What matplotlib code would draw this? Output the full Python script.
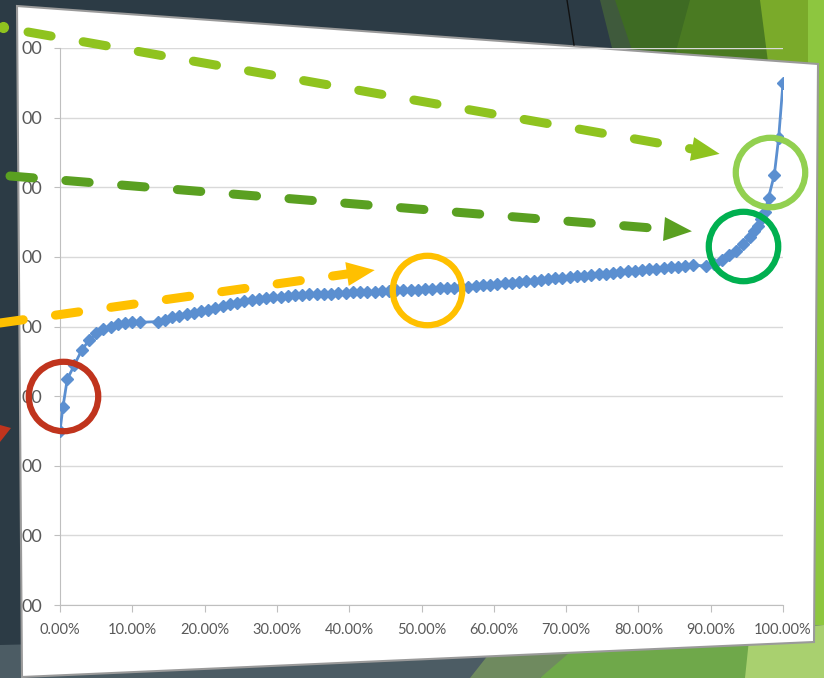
import matplotlib
matplotlib.use("Agg")
from matplotlib import pyplot as plt
from matplotlib.patches import Polygon
from matplotlib.lines import Line2D

# percentile position (%) and value (in grid units, 0..8)
pct = [0, 0.4, 1.0, 2.0, 3.0, 4.0, 5.0, 6.0, 7.0, 8.0, 9.0, 10.0, 11.0,
       13.5, 14.5, 15.5, 16.5, 17.5, 18.5, 19.5, 20.5, 21.5, 22.5, 23.5, 24.5,
       25.5, 26.5, 27.5, 28.5, 29.5, 30.5, 31.5, 32.5, 33.5, 34.5, 35.5, 36.5,
       37.5, 38.5, 39.5, 40.5, 41.5, 42.5, 43.5, 44.5, 45.5, 46.5, 47.5, 48.5,
       49.5, 50.5, 51.5, 52.5, 53.5, 54.5, 55.5, 56.5, 57.5, 58.5, 59.5, 60.5,
       61.5, 62.5, 63.5, 64.5, 65.5, 66.5, 67.5, 68.5, 69.5, 70.5, 71.5, 72.5,
       73.5, 74.5, 75.5, 76.5, 77.5, 78.5, 79.5, 80.5, 81.5, 82.5, 83.5, 84.5,
       85.5, 86.5, 87.5, 89.3, 90.5, 91.5, 92.5, 93.5, 94.5, 95.5, 96.0, 96.5,
       97.0, 97.5, 98.0, 98.8, 99.4, 100.0]
vals = [2.50, 2.84, 3.24, 3.45, 3.66, 3.80, 3.90, 3.96, 4.00, 4.03, 4.05, 4.06, 4.06,
        4.07, 4.10, 4.13, 4.15, 4.18, 4.20, 4.22, 4.24, 4.27, 4.29, 4.32, 4.34,
        4.36, 4.38, 4.40, 4.41, 4.42, 4.43, 4.44, 4.45, 4.45, 4.46, 4.46, 4.47,
        4.47, 4.48, 4.48, 4.49, 4.49, 4.50, 4.50, 4.51, 4.51, 4.52, 4.52, 4.53,
        4.53, 4.54, 4.54, 4.55, 4.55, 4.56, 4.57, 4.57, 4.58, 4.59, 4.60, 4.61,
        4.62, 4.63, 4.64, 4.65, 4.66, 4.67, 4.68, 4.69, 4.70, 4.71, 4.72, 4.73,
        4.74, 4.75, 4.76, 4.77, 4.78, 4.79, 4.80, 4.81, 4.82, 4.83, 4.84, 4.85,
        4.86, 4.87, 4.88, 4.87, 4.90, 4.95, 5.02, 5.09, 5.18, 5.29, 5.37, 5.45,
        5.55, 5.65, 5.85, 6.18, 6.71, 7.50]

x_ticks = [0, 10, 20, 30, 40, 50, 60, 70, 80, 90, 100]
x_labels = ["0.00%", "10.00%", "20.00%", "30.00%", "40.00%", "50.00%",
            "60.00%", "70.00%", "80.00%", "90.00%", "100.00%"]
y_ticks = [0, 1, 2, 3, 4, 5, 6, 7, 8]
y_labels = ["00"] * 9

# highlighted spots (pct, value, colour)
circle_pct = [0.4, 50.8, 94.5, 98.2]
circle_val = [3.0, 4.53, 5.15, 6.22]
circle_col = ["#c0341d", "#ffc000", "#00b050", "#92d050"]

W, H = 824, 678
plt.rcParams['font.family'] = ['Lato', 'DejaVu Sans']
fig = plt.figure(figsize=(W / 100, H / 100), dpi=100)
fig.patch.set_facecolor("#2c3b45")

# background layer in pixel coords
bg = fig.add_axes([0, 0, 1, 1], zorder=0)
bg.set_xlim(0, W)
bg.set_ylim(H, 0)
bg.axis("off")
shapes = [
    ([(600, 0), (625, 0), (640, 50), (612, 48)], "#3f5a3c"),
    ([(615, 0), (700, 0), (680, 55), (632, 50)], "#3e6b23"),
    ([(690, 0), (765, 0), (770, 60), (675, 55)], "#4a7a22"),
    ([(760, 0), (824, 0), (824, 70), (768, 62)], "#7aaa2a"),
    ([(808, 0), (824, 0), (824, 678), (808, 678)], "#8dc63f"),
    ([(0, 645), (824, 625), (824, 678), (0, 678)], "#4c5c64"),
    ([(500, 640), (600, 635), (540, 678), (470, 678)], "#6f8a5f"),
    ([(590, 635), (760, 630), (750, 678), (540, 678)], "#6fa84a"),
    ([(750, 630), (824, 625), (824, 678), (745, 678)], "#a9d06f"),
]
for pts, col in shapes:
    bg.add_patch(Polygon(pts, closed=True, facecolor=col, edgecolor="none"))
bg.plot([567, 574], [0, 45], color="#111111", lw=1)
bg.add_patch(Polygon([(0, 425), (11, 428), (0, 442)], closed=True,
                     facecolor="#c0341d", edgecolor="none"))
# white chart panel
bg.add_patch(Polygon([(17, 6), (818, 64), (814, 642), (22, 677)], closed=True,
                     facecolor="white", edgecolor="#9a9a9a", lw=1.5))

# chart
ax = fig.add_axes([60 / W, (H - 605) / H, 723 / W, 557 / H], zorder=2)
ax.set_facecolor("none")
ax.plot(pct, vals, color="#5b8fd0", lw=2, marker="D", ms=6,
        mfc="#5b8fd0", mec="#5b8fd0", zorder=3)
ax.set_xlim(0, 100)
ax.set_ylim(0, 8)
ax.set_xticks(x_ticks)
ax.set_xticklabels(x_labels)
ax.set_yticks(y_ticks)
ax.set_yticklabels(y_labels)
ax.grid(axis="y", color="#d9d9d9", lw=1)
ax.set_axisbelow(True)
for s in ["top", "right"]:
    ax.spines[s].set_visible(False)
for s in ["left", "bottom"]:
    ax.spines[s].set_color("#bfbfbf")
ax.tick_params(axis="x", colors="#bfbfbf", labelcolor="#595959", labelsize=10.5,
               length=5, pad=8)
ax.tick_params(axis="y", colors="#bfbfbf", labelcolor="#595959", labelsize=13,
               length=4, pad=9)

for cx, cy, cc in zip(circle_pct, circle_val, circle_col):
    ax.plot([cx], [cy], marker="o", ms=50, mfc="none", mec=cc, mew=4.5,
            clip_on=False, zorder=5)

# dashed arrows overlay
ov = fig.add_axes([0, 0, 1, 1], zorder=4)
ov.set_facecolor("none")
ov.set_xlim(0, W)
ov.set_ylim(H, 0)
ov.axis("off")
arrows = [
    ((28, 32), (692, 149), "#8fc31f"),
    ((10, 176), (664, 229), "#5aa021"),
    ((0, 323), (347, 274), "#ffc000"),
]
for (x0, y0), (x1, y1), col in arrows:
    ov.add_line(Line2D([x0, x1], [y0, y1], color=col, lw=6.5,
                       linestyle=(0, (2.6, 3.6)), dash_capstyle="round"))
    dx, dy = x1 - x0, y1 - y0
    n = (dx ** 2 + dy ** 2) ** 0.5
    ux, uy = dx / n, dy / n
    tip = (x1 + 28 * ux, y1 + 28 * uy)
    b1 = (x1 - 12 * uy, y1 + 12 * ux)
    b2 = (x1 + 12 * uy, y1 - 12 * ux)
    ov.add_patch(Polygon([tip, b1, b2], closed=True, facecolor=col, edgecolor="none"))
ov.plot([3], [27], "o", color="#8fc31f", ms=7)

fig.savefig("out.png", dpi=100, facecolor=fig.get_facecolor())
